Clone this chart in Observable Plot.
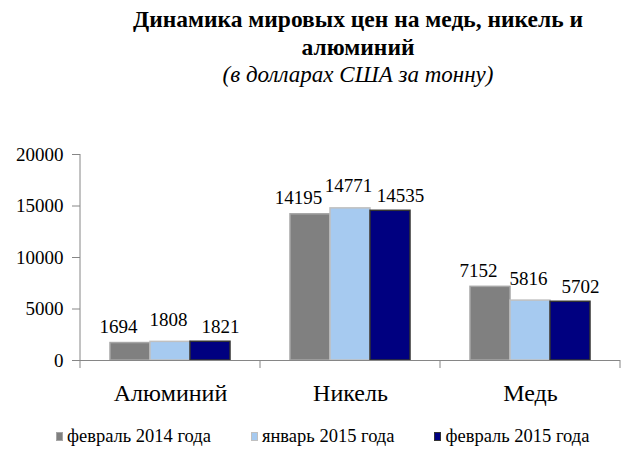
<!DOCTYPE html>
<html><head><meta charset="utf-8">
<script src="https://cdn.jsdelivr.net/npm/d3@7"></script>
<script src="https://cdn.jsdelivr.net/npm/@observablehq/plot@0.6"></script>
<style>
body{margin:0;background:#fff;font-family:"Liberation Serif","Times New Roman",serif;width:621px;height:453px;overflow:hidden;}
#title{height:100px;box-sizing:border-box;padding-left:95px;text-align:center;padding-top:5px;}
#title .t{font-weight:bold;font-size:23.5px;line-height:28px;}
#title .s{font-style:italic;font-size:23px;line-height:28px;}
#legend{display:flex;align-items:center;padding-left:56px;font-size:18.5px;height:33px;gap:40px;}
#legend .item{display:flex;align-items:center;gap:4px;white-space:nowrap;}
#legend .sw{width:7px;height:9px;box-sizing:border-box;border:1px solid;}
</style></head>
<body>
<div id="title"><div class="t">Динамика мировых цен на медь, никель и<br>алюминий</div><div class="s">(в долларах США за тонну)</div></div>
<div id="chart"></div>
<div id="legend"></div>
<script>
const categories = ["Алюминий", "Никель", "Медь"];
const series = ["февраль 2014 года", "январь 2015 года", "февраль 2015 года"];
const feb2014 = [1694, 14195, 7152];
const jan2015 = [1808, 14771, 5816];
const feb2015 = [1821, 14535, 5702];
const yTicks = [0, 5000, 10000, 15000, 20000];

const colors = ["#808080", "#a6caf0", "#000080"];
const strokes = ["#a6a6a6", "#c0c0c0", "#333333"];
const labelDx = [-12, -2, 10];
const labelDy = [-16, -22, -15];

const seriesValues = [feb2014, jan2015, feb2015];
const data = categories.flatMap((c, i) => series.map((s, j) => ({category: c, series: s, value: seriesValues[j][i]})));

const chart = Plot.plot({
  width: 621, height: 320,
  marginTop: 54, marginBottom: 60, marginLeft: 80, marginRight: 1,
  fx: {domain: categories, padding: 0, label: null},
  x: {domain: series, paddingInner: 0, paddingOuter: 0.75, axis: null},
  y: {domain: [0, 20000], label: null},
  color: {domain: series, range: colors},
  style: {fontFamily: "Liberation Serif", fontSize: "19px", color: "black", background: "white"},
  marks: [
    ...series.map((s, j) => Plot.barY(data.filter(d => d.series === s), {
      fx: "category", x: "series", y: "value", fill: "series", stroke: strokes[j], strokeWidth: 1.5
    })),
    ...series.map((s, j) => Plot.text(data.filter(d => d.series === s), {
      fx: "category", x: "series", y: "value", text: d => String(d.value),
      dx: labelDx[j], dy: labelDy[j], fontSize: 19, fill: "black"
    })),
    Plot.ruleY([0], {stroke: "#868686"}),
    Plot.axisY({ticks: yTicks, tickSize: 8, tickPadding: 9, stroke: "#868686", fill: "black", fontSize: 19, tickFormat: d => String(d), label: null}),
    Plot.axisFx({anchor: "bottom", tickSize: 0, tickPadding: 23, fontSize: 24, fill: "black", label: null})
  ]
});
document.getElementById("chart").appendChild(chart);

// axis line and category boundary ticks
const svg = d3.select(chart);
const ys = chart.scale("y"), fxs = chart.scale("fx");
const y0 = ys.apply(0), y1 = ys.apply(20000);
const xl = fxs.apply(categories[0]);
svg.append("line").attr("x1", xl).attr("x2", xl).attr("y1", y1).attr("y2", y0 + 8).attr("stroke", "#868686");
const bounds = categories.map(c => fxs.apply(c)).concat([fxs.apply(categories[categories.length - 1]) + fxs.bandwidth]);
bounds.slice(1).forEach(b => svg.append("line").attr("x1", b).attr("x2", b).attr("y1", y0).attr("y2", y0 + 8).attr("stroke", "#868686"));

// legend
const lg = d3.select("#legend");
series.forEach((s, j) => {
  const it = lg.append("div").attr("class", "item");
  it.append("div").attr("class", "sw").style("background", colors[j]).style("border-color", strokes[j]);
  it.append("span").text(s);
});
</script>
</body></html>
